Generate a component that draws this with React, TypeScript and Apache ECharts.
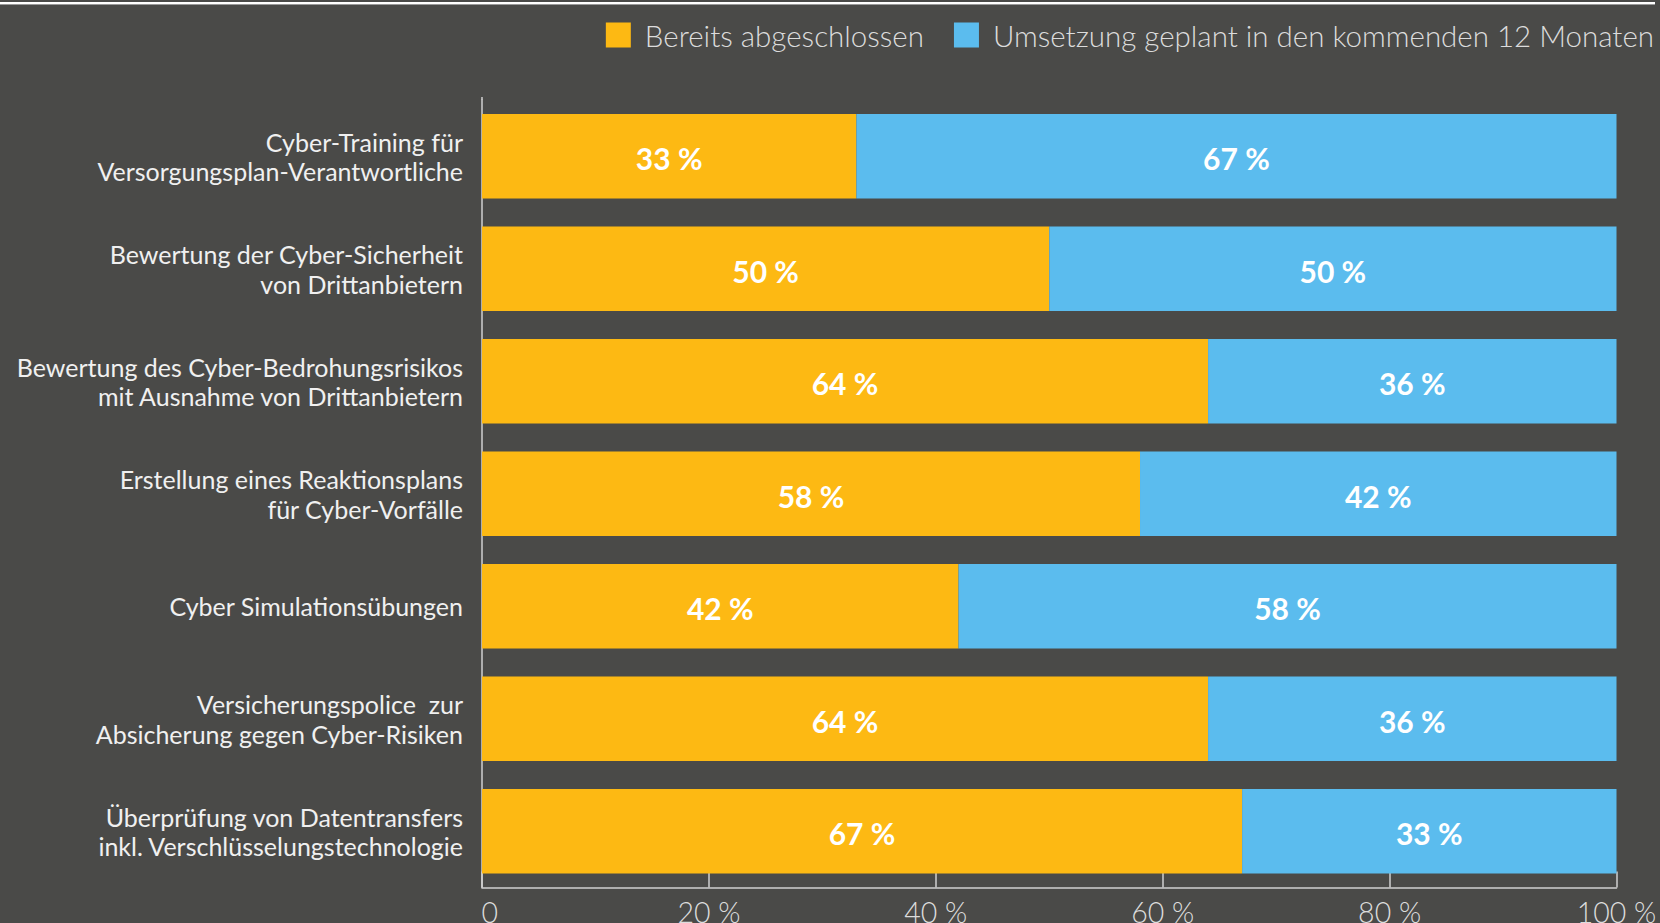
import React, { useEffect, useRef } from "react";
import * as echarts from "echarts";

const categories = [
  "Cyber-Training für\nVersorgungsplan-Verantwortliche",
  "Bewertung der Cyber-Sicherheit\nvon Drittanbietern",
  "Bewertung des Cyber-Bedrohungsrisikos\nmit Ausnahme von Drittanbietern",
  "Erstellung eines Reaktionsplans\nfür Cyber-Vorfälle",
  "Cyber Simulationsübungen",
  "Versicherungspolice  zur\nAbsicherung gegen Cyber-Risiken",
  "Überprüfung von Datentransfers\ninkl. Verschlüsselungstechnologie",
];
const seriesNames = ["Bereits abgeschlossen", "Umsetzung geplant in den kommenden 12 Monaten"];
const completed = [33, 50, 64, 58, 42, 64, 67];
const planned = [67, 50, 36, 42, 58, 36, 33];
const xTicks = [0, 20, 40, 60, 80, 100];

const BG = "#4a4a48";
const ORANGE = "#fdb913";
const BLUE = "#5bbcee";
const FONT = "Lato";

export default function App() {
  const ref = useRef<HTMLDivElement>(null);
  useEffect(() => {
    document.body.style.margin = "0";
    document.body.style.background = BG;
    const chart = echarts.init(ref.current!, null, { renderer: "svg" });
    const gridLeft = 482;
    const gridTop = 100;
    const gridWidth = 1134.5;
    const gridHeight = 787.5;
    const barLabel = {
      show: true,
      position: "inside",
      offset: [0, 2],
      color: "#ffffff",
      fontWeight: "bold",
      fontSize: 30,
      fontFamily: FONT,
      formatter: "{c} %",
    };
    chart.setOption({
      animation: false,
      backgroundColor: BG,
      textStyle: { fontFamily: FONT },
      legend: {
        right: 6,
        top: 20,
        padding: 0,
        itemWidth: 25,
        itemHeight: 25,
        itemGap: 30,
        icon: "rect",
        data: seriesNames,
        textStyle: {
          color: "#dcdcdc",
          fontSize: 29.5,
          fontWeight: 300,
          fontFamily: FONT,
          padding: [0, 0, 0, 9],
        },
      },
      grid: {
        left: gridLeft,
        top: gridTop,
        width: gridWidth,
        height: gridHeight,
        containLabel: false,
        outerBoundsMode: "none",
      },
      xAxis: {
        type: "value",
        min: 0,
        max: 100,
        interval: 20,
        splitLine: { show: false },
        axisLine: { show: true, lineStyle: { color: "#d0d0d0", width: 1.5 } },
        axisTick: { show: true, inside: true, length: 16, lineStyle: { color: "#d0d0d0", width: 1.5 } },
        axisLabel: {
          color: "#dcdcdc",
          fontSize: 28.5,
          fontWeight: 300,
          fontFamily: FONT,
          margin: 10,
          formatter: (v: number) => (xTicks.indexOf(v) === 0 ? "  0" : v + " %"),
        },
      },
      yAxis: {
        type: "category",
        inverse: true,
        data: categories,
        axisLine: { show: true, lineStyle: { color: "#d0d0d0", width: 1.5 } },
        axisTick: { show: false },
        axisLabel: {
          color: "#f0f0f0",
          fontSize: 25,
          lineHeight: 29.5,
          fontFamily: FONT,
          margin: 19,
          padding: [4, 0, 0, 0],
          align: "right",
        },
      },
      series: [
        {
          name: seriesNames[0],
          type: "bar",
          stack: "total",
          data: completed,
          barCategoryGap: "25%",
          itemStyle: { color: ORANGE },
          label: barLabel,
        },
        {
          name: seriesNames[1],
          type: "bar",
          stack: "total",
          data: planned,
          barCategoryGap: "25%",
          itemStyle: { color: BLUE },
          label: barLabel,
        },
      ],
      graphic: [
        { type: "rect", shape: { x: 0, y: 2, width: 1655, height: 2 }, style: { fill: "#ffffff" } },
        { type: "rect", shape: { x: 0, y: 4, width: 1655, height: 1 }, style: { fill: "#9a9a9a" } },
        {
          type: "line",
          shape: { x1: gridLeft, y1: 97, x2: gridLeft, y2: gridTop },
          style: { stroke: "#d0d0d0", lineWidth: 1.5 },
        },
      ],
    });
    return () => chart.dispose();
  }, []);
  return <div ref={ref} style={{ width: 1660, height: 923 }} />;
}
